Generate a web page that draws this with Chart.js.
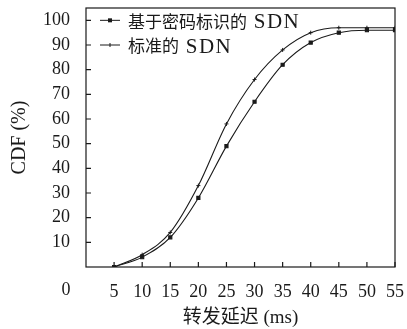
<!DOCTYPE html>
<html>
<head>
<meta charset="utf-8">
<script src="https://cdn.jsdelivr.net/npm/chart.js@4"></script>
<style>
  html, body { margin: 0; padding: 0; background: #fff; }
  #wrap { width: 407px; height: 329px; }
</style>
</head>
<body>
<div id="wrap"><canvas id="myChart" width="407" height="329"></canvas></div>
<script>
// x values (ms) and CDF values
const delays = [5, 10, 15, 20, 25, 30, 35, 40, 45, 50, 55];
const cdfSecure = [0, 4, 12, 28, 49, 67, 82, 91, 95, 96, 96];
const cdfStandard = [0, 5, 14, 33, 58, 76, 88, 95, 97, 97, 97];
const seriesNames = ['基于密码标识的 SDN', '标准的 SDN'];
const xTicks = [5, 10, 15, 20, 25, 30, 35, 40, 45, 50, 55];
const yTicks = [10, 20, 30, 40, 50, 60, 70, 80, 90, 100];

const numFont = '"Liberation Serif", "DejaVu Serif", serif';
const cjkFont = '"Liberation Serif", "Noto Sans CJK SC", serif';
const ink = '#1a1a1a';

function toPoints(ys) {
    return delays.map((x, i) => ({ x: x, y: ys[i] }));
}

// write a label run by run: CJK a bit smaller than latin, like the original
function mixedText(ctx, text, x, y) {
    const runs = text.match(/[\u4e00-\u9fff]+|[^\u4e00-\u9fff]+/g) || [];
    runs.forEach(r => {
        const cjk = /[\u4e00-\u9fff]/.test(r);
        ctx.font = cjk ? '17px "Noto Sans CJK SC"' : '21px ' + numFont;
        ctx.letterSpacing = cjk ? '0px' : '1.5px';
        ctx.fillText(r, x, cjk ? y : y + 1);
        x += ctx.measureText(r).width;
    });
    ctx.letterSpacing = '0px';
}

// frame, inward ticks, corner "0" and the legend
const decor = {
    id: 'decor',
    afterDraw(chart) {
        const ctx = chart.ctx;
        const a = chart.chartArea;
        const xs = chart.scales.x, ys = chart.scales.y;
        ctx.save();
        ctx.strokeStyle = ink;
        ctx.lineWidth = 1.2;
        ctx.strokeRect(a.left, a.top, a.right - a.left, a.bottom - a.top);
        ctx.beginPath();
        xTicks.forEach(v => {
            const px = xs.getPixelForValue(v);
            ctx.moveTo(px, a.bottom);
            ctx.lineTo(px, a.bottom - 5);
        });
        yTicks.forEach(v => {
            const py = ys.getPixelForValue(v);
            ctx.moveTo(a.left, py);
            ctx.lineTo(a.left + 5, py);
        });
        ctx.stroke();

        ctx.fillStyle = ink;
        ctx.font = '18px ' + numFont;
        ctx.textAlign = 'center';
        ctx.textBaseline = 'middle';
        ctx.fillText('0', a.left - 20, a.bottom + 23);

        // legend
        ctx.textAlign = 'left';
        chart.data.datasets.forEach((ds, i) => {
            const ly = ys.getPixelForValue(100 - i * 10);
            const lx = a.left + 14;
            ctx.beginPath();
            ctx.lineWidth = 1;
            ctx.moveTo(lx, ly);
            ctx.lineTo(lx + 20, ly);
            ctx.stroke();
            if (ds.pointStyle === 'rect') {
                ctx.fillRect(lx + 8, ly - 2, 4, 4);
            } else {
                ctx.beginPath();
                ctx.moveTo(lx + 10, ly - 2);
                ctx.lineTo(lx + 10, ly + 2);
                ctx.stroke();
            }
            mixedText(ctx, ds.label, lx + 28, ly + 1);
        });
        ctx.restore();
    }
};

const canva = document.getElementById('myChart').getContext('2d');
const myChart = new Chart(canva, {
    type: 'line',
    data: {
        datasets: [{
            label: seriesNames[0],
            data: toPoints(cdfSecure),
            borderColor: ink,
            backgroundColor: ink,
            borderWidth: 1.1,
            pointStyle: 'rect',
            pointRadius: 2.2,
            tension: 0.4,
            cubicInterpolationMode: 'monotone'
        }, {
            label: seriesNames[1],
            data: toPoints(cdfStandard),
            borderColor: ink,
            backgroundColor: ink,
            borderWidth: 1.1,
            pointStyle: 'cross',
            pointRadius: 2,
            pointBorderWidth: 1,
            tension: 0.4,
            cubicInterpolationMode: 'monotone'
        }]
    },
    options: {
        responsive: false,
        animation: false,
        layout: { padding: { top: 8, right: 12, left: 0, bottom: 0 } },
        plugins: {
            legend: { display: false },
            tooltip: { enabled: false }
        },
        scales: {
            x: {
                type: 'linear',
                min: 0,
                max: 55,
                afterBuildTicks: s => { s.ticks = xTicks.map(v => ({ value: v })); },
                afterFit: s => { s.height = 62; s.paddingLeft = 0; s.paddingRight = 0; },
                grid: { display: false },
                border: { display: false },
                ticks: {
                    color: ink,
                    padding: 6,
                    maxRotation: 0,
                    font: { family: numFont, size: 18 }
                },
                title: {
                    display: true,
                    text: '转发延迟 (ms)',
                    color: ink,
                    padding: { top: 0, bottom: 0 },
                    font: { family: cjkFont, size: 19 }
                }
            },
            y: {
                min: 0,
                max: 105,
                afterBuildTicks: s => { s.ticks = yTicks.map(v => ({ value: v })); },
                afterFit: s => { s.width = 86; s.paddingTop = 0; s.paddingBottom = 0; },
                grid: { display: false },
                border: { display: false },
                ticks: {
                    color: ink,
                    padding: 8,
                    font: { family: numFont, size: 18 }
                },
                title: {
                    display: true,
                    text: 'CDF (%)',
                    color: ink,
                    padding: { top: 8, bottom: 0 },
                    font: { family: numFont, size: 20 }
                }
            }
        }
    },
    plugins: [decor]
});
</script>
</body>
</html>
